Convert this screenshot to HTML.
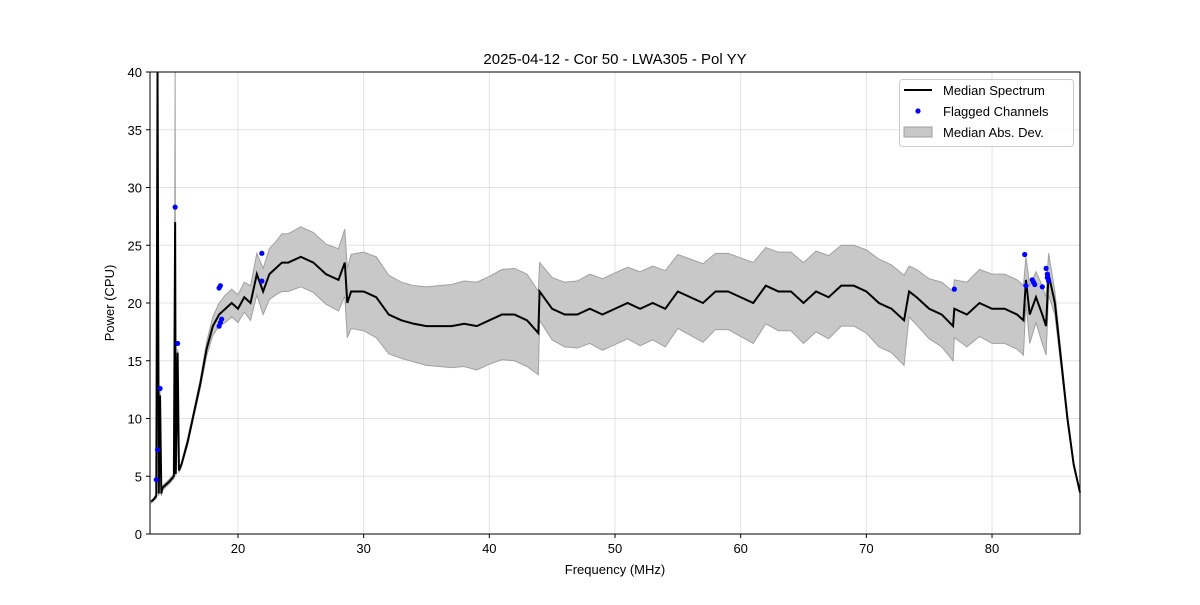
<!DOCTYPE html>
<html><head><meta charset="utf-8"><style>
body{margin:0;background:#fff;}
svg text{font-family:"Liberation Sans",sans-serif;fill:#000;}
</style></head><body>
<svg id="chart" width="1200" height="600">
<rect width="1200" height="600" fill="#fff"/>
<g id="grid"></g>
<g id="band"></g>
<g id="line"></g>
<g id="pts"></g>
<rect x="150" y="72" width="930" height="462" fill="none" stroke="#000" stroke-width="1"/>
<g id="ticks"></g>
<text x="615" y="64" font-size="15" text-anchor="middle">2025-04-12 - Cor 50 - LWA305 - Pol YY</text>
<text x="615" y="574" font-size="13" text-anchor="middle">Frequency (MHz)</text>
<text transform="translate(114,303) rotate(-90)" font-size="13" text-anchor="middle">Power (CPU)</text>
<g>
<rect x="899.5" y="79.5" width="174" height="67" rx="3" fill="#fff" fill-opacity="0.8" stroke="#ccc"/>
<g><line x1="904" y1="90" x2="932" y2="90" stroke="#000" stroke-width="2"/><text x="943" y="95" font-size="13">Median Spectrum</text></g>
<g><circle cx="918" cy="111" r="2.6" fill="#0000ff"/><text x="943" y="116" font-size="13">Flagged Channels</text></g>
<g><rect x="904" y="127" width="28" height="10" fill="#c8c8c8" stroke="#a0a0a0"/><text x="943" y="137" font-size="13">Median Abs. Dev.</text></g>
</g>
</svg>
<script>
const freqs=[13.1,13.3,13.5,13.6,13.7,13.8,13.9,14.0,14.5,14.9,
15.0,15.05,15.2,15.3,15.5,16,16.5,17,17.5,18,
18.5,19,19.5,20,20.5,21,21.5,22,22.5,23,
23.5,24,25,26,27,28,28.5,28.7,29,30,
31,32,33,34,35,36,37,38,39,40,
41,42,43,43.9,44,45,46,47,48,49,
50,51,52,53,54,55,56,57,58,59,
60,61,62,63,64,65,66,67,68,69,
70,71,72,73,73.4,74,75,76,76.9,77,
78,79,80,81,82,82.5,82.7,83,83.5,84,
84.3,84.5,85,85.5,86,86.5,87];
const median=[2.8,3.0,3.3,40,3.5,12,3.5,4.0,4.5,5.0,
27,5.2,15.7,5.5,6,8,10.5,13,16,18,
19,19.5,20,19.5,20.5,20,22.5,21,22.5,23,
23.5,23.5,24,23.5,22.5,22,23.5,20,21,21,
20.5,19,18.5,18.2,18,18,18,18.2,18,18.5,
19,19,18.5,17.4,21,19.5,19,19,19.5,19,
19.5,20,19.5,20,19.5,21,20.5,20,21,21,
20.5,20,21.5,21,21,20,21,20.5,21.5,21.5,
21,20,19.5,18.5,21,20.5,19.5,19,18,19.5,
19,20,19.5,19.5,19,18.5,22,19,20.5,19,
18,22.5,20,15,10,6,3.6];
const deviation=[0.1,0.1,0.2,0.5,0.2,0.5,0.2,0.2,0.2,0.2,
13,0.2,0.3,0.2,0.2,0.3,0.3,0.4,0.6,0.8,
1,1.2,1.2,1.2,1.3,1.5,1.8,2,2.2,2.3,
2.5,2.5,2.6,2.6,2.6,2.7,2.9,3,3.2,3.4,
3.5,3.4,3.3,3.3,3.4,3.5,3.6,3.7,3.8,3.8,
3.9,4,4,3.6,2.5,2.7,2.8,2.9,3,3.1,
3.1,3.1,3.2,3.2,3.3,3.2,3.3,3.4,3.3,3.3,
3.4,3.5,3.3,3.4,3.4,3.5,3.5,3.6,3.5,3.5,
3.6,3.8,3.8,3.9,2.2,2.4,2.6,2.8,3,2.5,
2.8,2.9,3,3,3,3,2,2.5,2.2,2.5,
2.5,1.8,1,0.6,0.4,0.2,0.1];
const flagFreqs=[13.5,13.6,13.8,15.0,15.2,18.5,18.6,18.5,18.6,18.7,21.9,21.9,77,82.6,82.7,83.2,83.3,83.4,84.0,84.3,84.4,84.4,84.5];
const flagVals=[4.7,7.3,12.6,28.3,16.5,21.3,21.5,18,18.3,18.6,24.3,21.9,21.2,24.2,21.5,22,21.8,21.6,21.4,23,22.5,22.2,21.9];
const xTicks=[20,30,40,50,60,70,80];
const yTicks=[0,5,10,15,20,25,30,35,40];
const X0=13.0,X1=87.0,Y0=0,Y1=40,L=150,R=1080,T=72,B=534;
const sx=f=>L+(f-X0)/(X1-X0)*(R-L);
const sy=v=>B-(v-Y0)/(Y1-Y0)*(B-T);
const NS='http://www.w3.org/2000/svg';
function mk(tag,attrs,parent){const e=document.createElementNS(NS,tag);for(const k in attrs)e.setAttribute(k,attrs[k]);document.getElementById(parent).appendChild(e);return e;}
xTicks.forEach(t=>{
 const g=mk('line',{x1:sx(t),x2:sx(t),y1:T,y2:B,stroke:'#b0b0b0','stroke-opacity':0.35},'grid');
 
 
 mk('line',{x1:sx(t),x2:sx(t),y1:B,y2:B+4,stroke:'#000'},'ticks');
 const tx=mk('text',{x:sx(t),y:B+19,'font-size':13,'text-anchor':'middle'},'ticks');tx.textContent=t;
 
 
});
yTicks.forEach(t=>{
 const g=mk('line',{x1:L,x2:R,y1:sy(t),y2:sy(t),stroke:'#b0b0b0','stroke-opacity':0.35},'grid');
 
 
 mk('line',{x1:L-4,x2:L,y1:sy(t),y2:sy(t),stroke:'#000'},'ticks');
 const tx=mk('text',{x:L-8,y:sy(t)+5,'font-size':13,'text-anchor':'end'},'ticks');tx.textContent=t;
 
 
});
const clipY=v=>Math.max(T,Math.min(B,sy(v)));
let up=freqs.map((f,i)=>sx(f)+','+clipY(median[i]+deviation[i]));
let dn=freqs.map((f,i)=>sx(f)+','+clipY(median[i]-deviation[i])).reverse();
const band=mk('polygon',{points:up.concat(dn).join(' '),fill:'#c8c8c8',stroke:'#a0a0a0','stroke-width':1},'band');


const ln=mk('polyline',{points:freqs.map((f,i)=>sx(f)+','+clipY(median[i])).join(' '),fill:'none',stroke:'#000','stroke-width':2,'stroke-linejoin':'miter'},'line');


flagFreqs.forEach((f,i)=>{
 const c=mk('circle',{cx:sx(f),cy:sy(flagVals[i]),r:2.6,fill:'#0000ff'},'pts');
 
 
});
</script>
</body></html>
